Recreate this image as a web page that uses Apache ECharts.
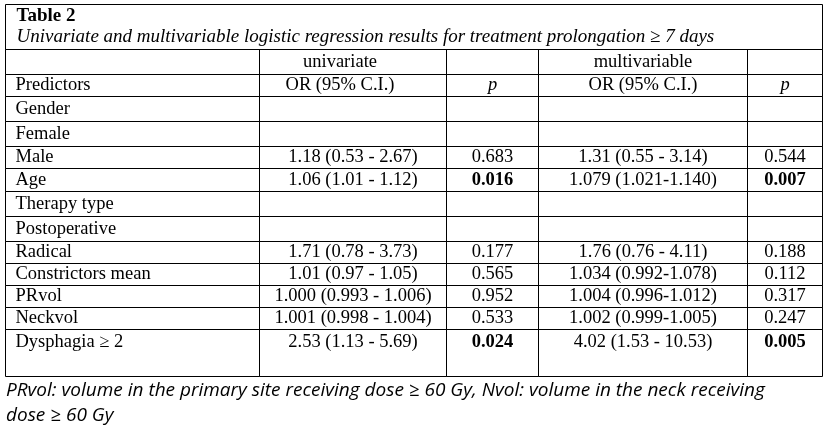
<!DOCTYPE html>
<html>
<head>
<meta charset="utf-8">
<script src="https://cdn.jsdelivr.net/npm/echarts@6/dist/echarts.min.js"></script>
<style>
  html, body { margin: 0; padding: 0; background: #fff; }
  #chart { width: 833px; height: 432px; }
</style>
</head>
<body>
<div id="chart"></div>
<script>
// table content
const tableTitle = 'Table 2';
const tableCaption = 'Univariate and multivariable logistic regression results for treatment prolongation \u2265 7 days';
const groupHeaders = ['', 'univariate', '', 'multivariable', ''];
const columnHeaders = ['Predictors', 'OR (95% C.I.)', 'p', 'OR (95% C.I.)', 'p'];
const predictors = ['Gender', 'Female', 'Male', 'Age', 'Therapy type', 'Postoperative', 'Radical',
  'Constrictors mean', 'PRvol', 'Neckvol', 'Dysphagia \u2265 2'];
const uniOR = ['', '', '1.18 (0.53 - 2.67)', '1.06 (1.01 - 1.12)', '', '', '1.71 (0.78 - 3.73)',
  '1.01 (0.97 - 1.05)', '1.000 (0.993 - 1.006)', '1.001 (0.998 - 1.004)', '2.53 (1.13 - 5.69)'];
const uniP = ['', '', '0.683', '0.016', '', '', '0.177', '0.565', '0.952', '0.533', '0.024'];
const multiOR = ['', '', '1.31 (0.55 - 3.14)', '1.079 (1.021-1.140)', '', '', '1.76 (0.76 - 4.11)',
  '1.034 (0.992-1.078)', '1.004 (0.996-1.012)', '1.002 (0.999-1.005)', '4.02 (1.53 - 10.53)'];
const multiP = ['', '', '0.544', '0.007', '', '', '0.188', '0.112', '0.317', '0.247', '0.005'];
const footnote = 'PRvol: volume in the primary site receiving dose \u2265 60 Gy, Nvol: volume in the neck receiving\ndose \u2265 60 Gy';

// layout (px)
const colWidths = [254, 187, 92, 209, 75];
const rowHeights = [45, 25, 22, 25, 25, 22, 23, 25, 25, 22, 22, 22, 22, 47];
const headerShift = [0, -13, 0, 0, 0];
const serif = '"Liberation Serif", "Times New Roman", Times, serif';
const fontSize = 18.5;

function edges(sizes) {
  let acc = [0];
  sizes.forEach(s => acc.push(acc[acc.length - 1] + s));
  return acc;
}
const xEdges = edges(colWidths);
const yEdges = edges(rowHeights);

// one entry per cell
let cells = [{ c: 0, r: 0, span: 5, title: true }];
for (let c = 0; c < 5; c++) {
  cells.push({ c: c, r: 1, span: 1, text: groupHeaders[c], shift: headerShift[c] });
  cells.push({ c: c, r: 2, span: 1, text: columnHeaders[c], italic: c === 2 || c === 4, shift: headerShift[c] });
}
predictors.forEach((name, i) => {
  let r = 3 + i;
  cells.push({ c: 0, r: r, span: 1, text: name });
  cells.push({ c: 1, r: r, span: 1, text: uniOR[i] });
  cells.push({ c: 2, r: r, span: 1, text: uniP[i], bold: uniP[i] !== '' && +uniP[i] < 0.05 });
  cells.push({ c: 3, r: r, span: 1, text: multiOR[i] });
  cells.push({ c: 4, r: r, span: 1, text: multiP[i], bold: multiP[i] !== '' && +multiP[i] < 0.05 });
});

function renderCell(params, api) {
  let cell = cells[params.dataIndex];
  let p0 = api.coord([xEdges[cell.c], yEdges[cell.r]]);
  let p1 = api.coord([xEdges[cell.c + cell.span], yEdges[cell.r + 1]]);
  let x0 = Math.round(p0[0]) + 0.5, y0 = Math.round(p0[1]) + 0.5;
  let x1 = Math.round(p1[0]) + 0.5, y1 = Math.round(p1[1]) + 0.5;
  let children = [{
    type: 'rect',
    shape: { x: x0, y: y0, width: x1 - x0, height: y1 - y0 },
    style: { fill: 'none', stroke: '#000', lineWidth: 1 }
  }];
  if (cell.title) {
    children.push({
      type: 'text',
      x: x0 + 11, y: y0 + 1,
      style: {
        text: '{b|' + tableTitle + '}\n{i|' + tableCaption + '}',
        verticalAlign: 'top',
        rich: {
          b: { fontFamily: serif, fontSize: 19, fontWeight: 'bold', lineHeight: 21, fill: '#000' },
          i: { fontFamily: serif, fontSize: 19, fontStyle: 'italic', lineHeight: 21, fill: '#000' }
        }
      }
    });
  } else if (cell.text) {
    let left = cell.c === 0;
    children.push({
      type: 'text',
      x: left ? x0 + 10 : (x0 + x1) / 2 + (cell.shift || 0),
      y: y0 + Math.min(y1 - y0, 25) / 2,
      style: {
        text: cell.text,
        align: left ? 'left' : 'center',
        verticalAlign: 'middle',
        fontFamily: serif,
        fontSize: fontSize,
        fontWeight: cell.bold ? 'bold' : 'normal',
        fontStyle: cell.italic ? 'italic' : 'normal',
        fill: '#000'
      }
    });
  }
  return { type: 'group', children: children };
}

let chart = echarts.init(document.getElementById('chart'));
chart.setOption({
  animation: false,
  backgroundColor: '#fff',
  title: {
    text: footnote,
    left: 6,
    top: 378,
    padding: 0,
    textStyle: {
      fontFamily: '"Open Sans", sans-serif',
      fontStyle: 'italic',
      fontWeight: 'normal',
      fontSize: 19,
      lineHeight: 25,
      color: '#000'
    }
  },
  grid: { left: 5, top: 4, width: xEdges[5], height: yEdges[rowHeights.length] },
  xAxis: { type: 'value', min: 0, max: xEdges[5], show: false },
  yAxis: { type: 'value', min: 0, max: yEdges[rowHeights.length], inverse: true, show: false },
  series: [{
    type: 'custom',
    coordinateSystem: 'cartesian2d',
    renderItem: renderCell,
    silent: true,
    data: cells.map(cell => [xEdges[cell.c], yEdges[cell.r]])
  }]
});
</script>
</body>
</html>
